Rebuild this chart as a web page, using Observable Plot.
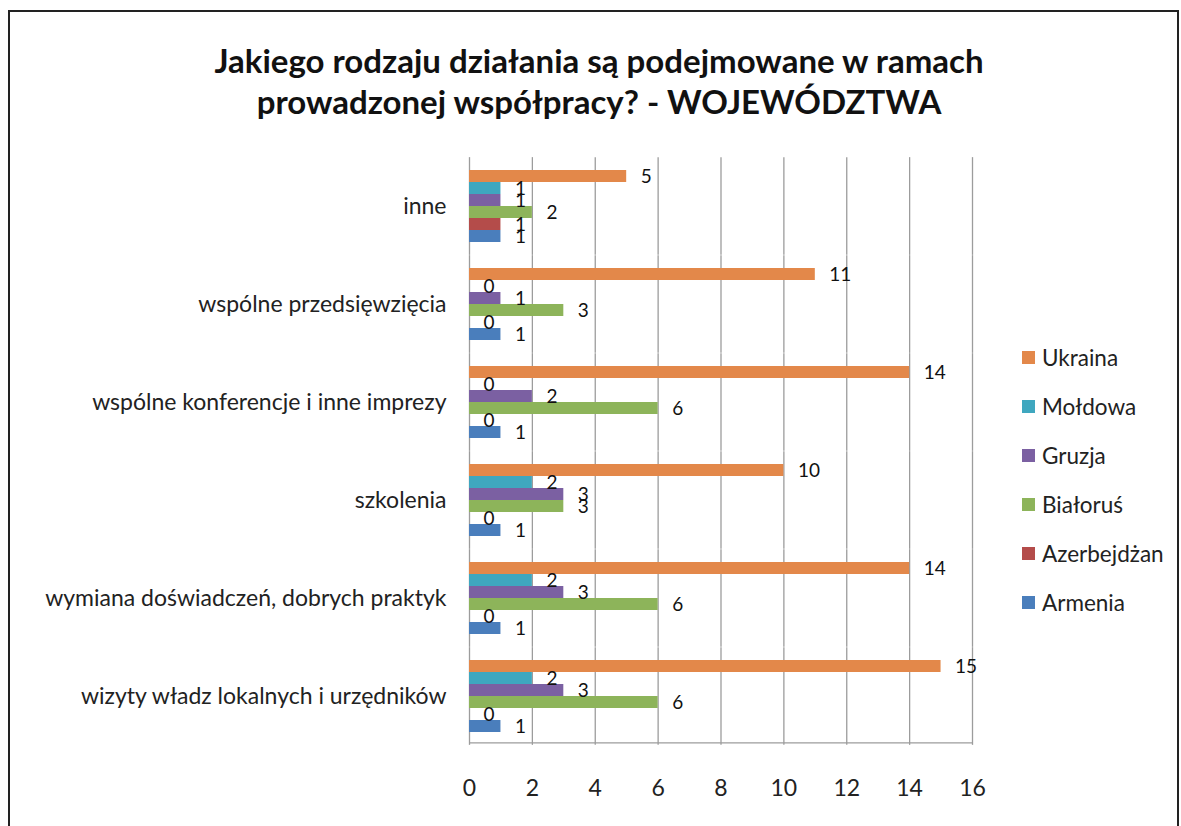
<!DOCTYPE html>
<html>
<head>
<meta charset="utf-8">
<script src="https://cdn.jsdelivr.net/npm/d3@7"></script>
<script src="https://cdn.jsdelivr.net/npm/@observablehq/plot@0.6"></script>
<style>
  html, body { margin: 0; padding: 0; background: #fff; }
  #wrap { position: relative; width: 1181px; height: 826px; overflow: hidden; background: #fff; font-family: Lato, "Open Sans", sans-serif; }
  #border { position: absolute; left: 8px; top: 10px; width: 1171px; height: 830px; border: 2px solid #222; box-sizing: border-box; }
  #title { position: absolute; left: 0; width: 1198px; top: 40px; text-align: center; font-weight: bold; font-size: 33px; line-height: 41px; color: #111; }
  #chart { position: absolute; left: 0; top: 140px; }
  #legend { position: absolute; left: 1022px; top: 333px; }
  .item { display: flex; align-items: center; height: 49px; font-size: 22.5px; color: #222; }
  .sw { width: 13px; height: 13px; margin-right: 7px; }
</style>
</head>
<body>
<div id="wrap">
  <div id="border"></div>
  <div id="title">Jakiego rodzaju działania są podejmowane w ramach<br>prowadzonej współpracy? - WOJEWÓDZTWA</div>
  <div id="chart"></div>
  <div id="legend"></div>
</div>
<script>
const categories = ["inne", "wspólne przedsięwzięcia", "wspólne konferencje i inne imprezy", "szkolenia", "wymiana doświadczeń, dobrych praktyk", "wizyty władz lokalnych i urzędników"];
const series = ["Ukraina", "Mołdowa", "Gruzja", "Białoruś", "Azerbejdżan", "Armenia"];
const ukraina     = [5, 11, 14, 10, 14, 15];
const moldowa     = [1, 0, 0, 2, 2, 2];
const gruzja      = [1, 1, 2, 3, 3, 3];
const bialorus    = [2, 3, 6, 3, 6, 6];
const azerbejdzan = [1, 0, 0, 0, 0, 0];
const armenia     = [1, 1, 1, 1, 1, 1];
const xTicks = [0, 2, 4, 6, 8, 10, 12, 14, 16];
const colors = ["#E3884A", "#3FA7BF", "#7B60A2", "#8DB45A", "#B44C4A", "#4A7EBC"];

const values = [ukraina, moldowa, gruzja, bialorus, azerbejdzan, armenia];
const data = [];
categories.forEach((c, i) => series.forEach((s, j) => data.push({category: c, series: s, value: values[j][i]})));

const H = 686, mT = 15, mB = 79;
const step = (H - mT - mB) / 6;
const half = 0.1 * step;
const lastCat = categories[categories.length - 1];

const chart = Plot.plot({
  width: 1181,
  height: H,
  marginLeft: 469,
  marginRight: 209,
  marginTop: mT,
  marginBottom: mB,
  style: {fontFamily: "Lato, 'Open Sans', sans-serif", fontSize: "23px", color: "#222", background: "transparent"},
  x: {domain: [0, 16], ticks: xTicks, tickSize: 0, tickPadding: 44, label: null},
  fy: {domain: categories, paddingInner: 0.2, paddingOuter: 0.1, axis: "left", tickSize: 0, tickPadding: 23, label: null},
  y: {domain: series, padding: 0.04, axis: null},
  color: {domain: series, range: colors},
  marks: [
    Plot.ruleX(xTicks, {stroke: "#9c9c9c", strokeWidth: 1.3, insetTop: -half, insetBottom: -half}),
    Plot.ruleY([{c: lastCat, s: "Armenia"}], {fy: "c", y: "s", x1: 0, x2: 16, stroke: "#9c9c9c", strokeWidth: 1.3, dy: step * 0.8 / 12 + half}),
    Plot.barX(data, {x: "value", y: "series", fy: "category", fill: "series"}),
    Plot.text(data, {x: "value", y: "series", fy: "category", text: d => String(d.value), dx: 14, textAnchor: "start", fontSize: 19, fill: "#111"})
  ]
});
document.getElementById("chart").appendChild(chart);

const legend = document.getElementById("legend");
series.forEach((s, i) => {
  const it = document.createElement("div");
  it.className = "item";
  it.innerHTML = `<span class="sw" style="background:${colors[i]}"></span><span>${s}</span>`;
  legend.appendChild(it);
});
</script>
</body>
</html>
